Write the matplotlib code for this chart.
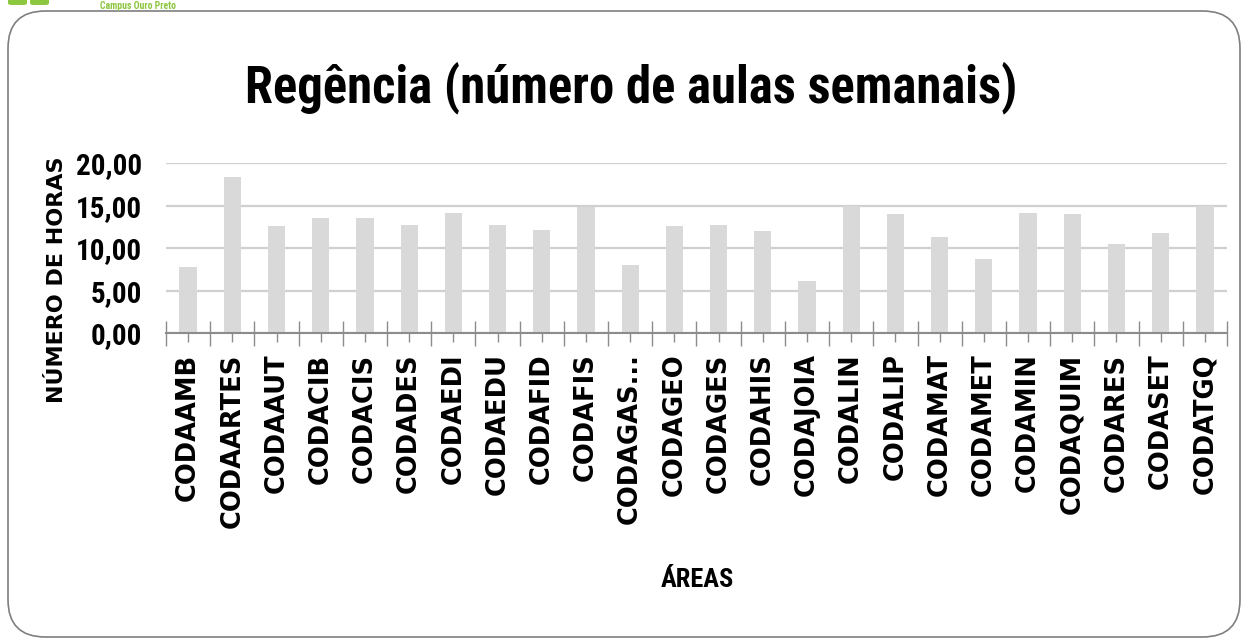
import numpy as np
import matplotlib
matplotlib.use('Agg')
import matplotlib.pyplot as plt
from matplotlib.patches import FancyBboxPatch

# data
areas = ['CODAAMB', 'CODAARTES', 'CODAAUT', 'CODACIB', 'CODACIS', 'CODADES',
         'CODAEDI', 'CODAEDU', 'CODAFID', 'CODAFIS', 'CODAGAS...', 'CODAGEO',
         'CODAGES', 'CODAHIS', 'CODAJOIA', 'CODALIN', 'CODALIP', 'CODAMAT',
         'CODAMET', 'CODAMIN', 'CODAQUIM', 'CODARES', 'CODASET', 'CODATGQ']
horas = [7.85, 18.4, 12.6, 13.6, 13.6, 12.8,
         14.2, 12.8, 12.2, 14.9, 8.0, 12.6,
         12.8, 12.0, 6.2, 15.0, 14.0, 11.3,
         8.7, 14.2, 14.0, 10.5, 11.8, 15.0]
y_ticks = [0, 5, 10, 15, 20]

narrow = ['Liberation Sans Narrow', 'Roboto Condensed', 'DejaVu Sans']
wide = ['DejaVu Sans']
bar_color = '#d9d9d9'
axis_gray = '#8c8c8c'

fig = plt.figure(figsize=(12.44, 6.39), dpi=100)

# rounded frame of the chart area (kept behind the axes)
frame = FancyBboxPatch((8 / 1244, 2 / 639), 1232 / 1244, 626 / 639,
                       boxstyle='round,pad=0,rounding_size=0.03',
                       transform=fig.transFigure, facecolor='white',
                       edgecolor='#7f7f7f', linewidth=1.2,
                       mutation_aspect=1244 / 639, zorder=-10)
fig.patches.append(frame)

# logo remains at the very top
fig.text(100 / 1244, 0.999, 'Campus Ouro Preto', color='#8dc63f', fontsize=7,
         fontweight='bold', family=narrow, va='top', ha='left')
for x0 in (8, 30):
    fig.patches.append(FancyBboxPatch((x0 / 1244, 634 / 639), 19 / 1244, 8 / 639,
                                      boxstyle='round,pad=0,rounding_size=0.003',
                                      transform=fig.transFigure,
                                      facecolor='#8dc63f', edgecolor='none'))

ax = fig.add_axes([166 / 1244, 1 - 333.3 / 639, (1227 - 166) / 1244, (333.3 - 163.3) / 639])
ax.set_zorder(1)
ax.patch.set_alpha(0)
x = np.arange(len(areas))
ax.bar(x, horas, width=0.39, color=bar_color, zorder=2)

ax.set_xlim(-0.5, len(areas) - 0.5)
ax.set_ylim(0, 20)
ax.set_yticks(y_ticks)
ax.set_yticklabels(['%d,00' % v for v in y_ticks], family=narrow,
                   fontweight='bold', fontsize=21)
ax.yaxis.grid(True, color='#d0d0d0', linewidth=1.6, zorder=0)
ax.set_axisbelow(True)
ax.tick_params(axis='y', length=0, pad=17)

ax.set_xticks(np.arange(-0.5, len(areas), 1.0))
ax.set_xticklabels([])
ax.set_xticks(x, labels=areas, minor=True)
ax.tick_params(axis='x', which='major', direction='inout', length=18, width=1,
               color=axis_gray, labelbottom=False)
ax.tick_params(axis='x', which='minor', direction='inout', length=13, width=1,
               color=axis_gray, pad=8)
for lbl in ax.get_xticklabels(minor=True):
    lbl.set_rotation(90)
    lbl.set_fontweight('bold')
    lbl.set_fontsize(18.5)
    lbl.set_family(wide)

for side in ('left', 'right', 'top'):
    ax.spines[side].set_visible(False)
ax.spines['bottom'].set_color(axis_gray)
ax.spines['bottom'].set_linewidth(1.5)

fig.text(631 / 1244, 1 - 88 / 639, 'Regência (número de aulas semanais)',
         family=narrow, fontweight='bold', fontsize=36.5, ha='center', va='center')
fig.text(57 / 1244, 1 - 280 / 639, 'NÚMERO DE HORAS', family=wide,
         fontweight='bold', fontsize=16, rotation=90, ha='center', va='center')
fig.text(697 / 1244, 1 - 580 / 639, 'ÁREAS', family=narrow, fontweight='bold',
         fontsize=19, ha='center', va='center')

fig.savefig('out.png', dpi=100)
